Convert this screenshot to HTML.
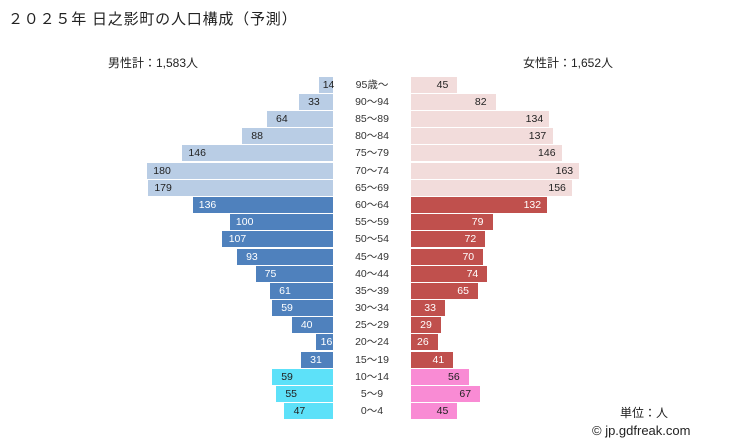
<!DOCTYPE html><html><head><meta charset="utf-8"><style>
body{margin:0;width:729px;height:446px;background:#fff;font-family:"Liberation Sans","Noto Sans CJK JP",sans-serif;position:relative;overflow:hidden}
.a{position:absolute}
.b{position:absolute;height:16px}
.t{position:absolute;font-size:10.5px;line-height:16px;width:30px;text-align:center}
.g{position:absolute;font-size:10.5px;line-height:16px;width:80px;text-align:center;left:332px;color:#333}
</style></head><body>
<div class="a" style="left:8px;top:8px;font-size:15px;color:#222;letter-spacing:0.8px">２０２５年 日之影町の人口構成（予測）</div>
<div class="a" style="left:108px;top:54px;font-size:12px;color:#222">男性計：1,583人</div>
<div class="a" style="left:523px;top:54px;font-size:12px;color:#222">女性計：1,652人</div>
<div class="a" style="left:620px;top:404px;font-size:12px;color:#222">単位：人</div>
<div class="a" style="left:592px;top:423px;font-size:13px;color:#222">© jp.gdfreak.com</div>
<div id="c"></div>
<script>
var ages=["95歳～","90～94","85～89","80～84","75～79","70～74","65～69","60～64","55～59","50～54","45～49","40～44","35～39","30～34","25～29","20～24","15～19","10～14","5～9","0～4"];
var m=[14,33,64,88,146,180,179,136,100,107,93,75,61,59,40,16,31,59,55,47];
var f=[45,82,134,137,146,163,156,132,79,72,70,74,65,33,29,26,41,56,67,45];
var h="",k=1.033;
for(var i=0;i<20;i++){var y=76.8+i*17.17;
var mc=i<7?"#b9cde5":i<17?"#4f81bd":"#5de1f9",fc=i<7?"#f2dcdb":i<17?"#c0504d":"#f98bd4";
var tc=(i>=7&&i<17)?"#fff":"#222";
var mw=m[i]*k,fw=f[i]*k;
h+='<div class="b" style="left:'+(333-mw)+'px;top:'+y+'px;width:'+mw+'px;background:'+mc+'"></div>';
h+='<div class="b" style="left:411px;top:'+y+'px;width:'+fw+'px;background:'+fc+'"></div>';
h+='<div class="t" style="left:'+(333-mw+(mw<24?-5:0))+'px;top:'+y+'px;color:'+tc+'">'+m[i]+'</div>';
h+='<div class="t" style="left:'+(411+fw-30)+'px;top:'+y+'px;color:'+tc+'">'+f[i]+'</div>';
h+='<div class="g" style="top:'+y+'px">'+ages[i]+'</div>';}
document.getElementById("c").innerHTML=h;
</script>
</body></html>
